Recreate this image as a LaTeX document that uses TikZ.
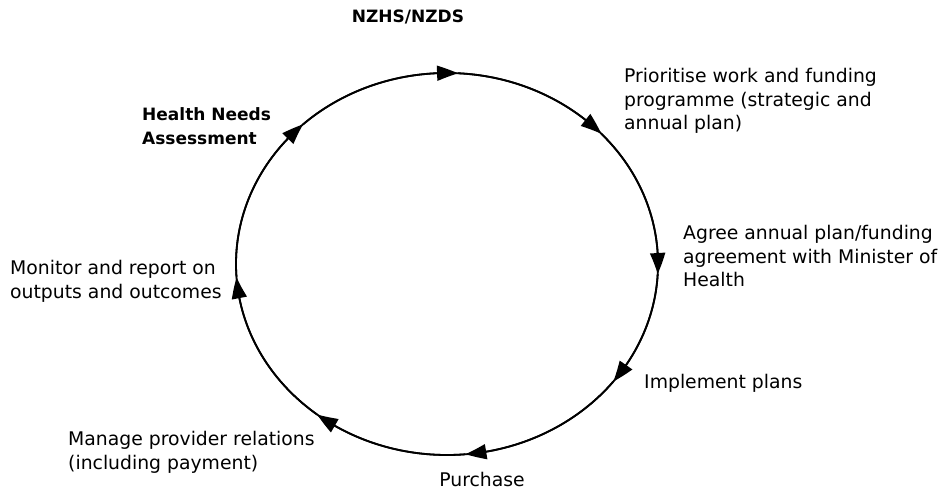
\documentclass[tikz,border=0pt]{standalone}
\usepackage{fontspec}
\setmainfont{DejaVu Sans}
\usetikzlibrary{arrows.meta,bending}

\begin{document}
\begin{tikzpicture}[x=1pt,y=1pt,
		lbl/.style={align=left, anchor=west, inner sep=0pt, font=\fontsize{18.8}{23.5}\selectfont},
		hdr/.style={lbl, font=\fontsize{17}{23.5}\selectfont\bfseries},
		cyc/.style={line width=1.8pt, -{Triangle[length=21pt,width=15pt,bend]}}]
	\useasboundingbox (0,0) rectangle (945,491);
	\coordinate (C) at(447,227);
	\draw[line width=1.8pt] (C) ellipse[x radius=211, y radius=191];
	% the cycle, one arc per step
	\foreach \a/\b in {133/87, 87/43, 43/-3, -3/-38, -38/-85, -85/-128, -128/-176, -176/-227}
		\draw[cyc] (C) ++(\a:211 and 191) arc[start angle=\a, end angle=\b, x radius=211, y radius=191];
	\node[hdr, anchor=center] (nzhs) at(408,474) {NZHS/NZDS};
	\node[hdr] (needs) at(142,365) {Health Needs\\Assessment};
	\node[lbl] (prior) at(624,390) {Prioritise work and funding\\programme (strategic and\\annual plan)};
	\node[lbl] (agree) at(683,235) {Agree annual plan/funding\\agreement with Minister of\\Health};
	\node[lbl] (impl) at(644,108) {Implement plans};
	\node[lbl, anchor=center] (purch) at(482,12) {Purchase};
	\node[lbl] (manage) at(68,38.5) {Manage provider relations\\(including payment)};
	\node[lbl] (monitor) at(10,209.5) {Monitor and report on\\outputs and outcomes};
\end{tikzpicture}
\end{document}
